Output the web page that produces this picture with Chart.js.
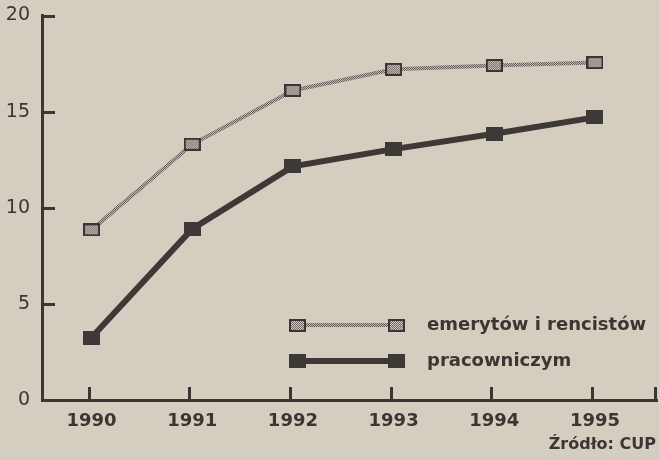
<!DOCTYPE html>
<html><head><meta charset="utf-8">
<script src="https://cdn.jsdelivr.net/npm/chart.js@4"></script>
<style>
html,body{margin:0;padding:0;background:#d5cec0;}
canvas{display:block;}
</style>
</head><body>
<canvas id="c" width="659" height="460"></canvas>
<script>
const years = [1990, 1991, 1992, 1993, 1994, 1995];
const emeryci = [8.85, 13.3, 16.1, 17.2, 17.4, 17.55];
const pracownicy = [3.25, 8.9, 12.15, 13.05, 13.85, 14.7];
const yTicks = [0, 5, 10, 15, 20];
const seriesNames = ['emerytów i rencistów', 'pracowniczym'];
const sourceText = 'Źródło: CUP';

const INK = '#3a3633';

function makeCanvas(w, h, fn) {
  const c = document.createElement('canvas');
  c.width = w; c.height = h;
  fn(c.getContext('2d'), w, h);
  return c;
}
const linePatCanvas = makeCanvas(2, 2, (g) => {
  g.fillStyle = '#c2bbb0'; g.fillRect(0, 0, 2, 2);
  g.fillStyle = '#625d59'; g.fillRect(0, 0, 1, 1); g.fillRect(1, 1, 1, 1);
});
const linePattern = document.createElement('canvas').getContext('2d').createPattern(linePatCanvas, 'repeat');

const markerGray = makeCanvas(17, 13, (g, w, h) => {
  g.fillStyle = '#cfc9bf'; g.fillRect(0, 0, w, h);
  g.fillStyle = '#6e6964';
  for (let yy = 0; yy < h; yy++) for (let xx = 0; xx < w; xx++) if ((xx + yy) % 2 === 0) g.fillRect(xx, yy, 1, 1);
  g.strokeStyle = '#3a3633'; g.lineWidth = 2; g.strokeRect(1, 1, w - 2, h - 2);
});
const markerDark = makeCanvas(17, 14, (g, w, h) => {
  g.fillStyle = '#3d3936'; g.fillRect(0, 0, w, h);
});

const toPts = (arr) => arr.map((v, i) => ({ x: years[i], y: v }));

const decor = {
  id: 'decor',
  afterDraw(chart) {
    const { ctx, chartArea: a, scales: { x, y } } = chart;
    ctx.save();
    ctx.strokeStyle = INK;
    ctx.lineWidth = 3;
    ctx.beginPath();
    yTicks.forEach(v => {
      if (v === 0) return;
      const py = Math.round(y.getPixelForValue(v)) + 0.5;
      ctx.moveTo(a.left, py); ctx.lineTo(a.left + 13, py);
    });
    years.forEach(v => {
      const px = Math.round(x.getPixelForValue(v)) - 2.5;
      ctx.moveTo(px, a.bottom); ctx.lineTo(px, a.bottom - 13);
    });
    ctx.moveTo(a.right - 1.5, a.bottom); ctx.lineTo(a.right - 1.5, a.bottom - 13);
    ctx.stroke();

    const rows = [325, 361];
    const x1 = 297.5, x2 = 396.5, tx = 427;
    chart.data.datasets.forEach((ds, i) => {
      const ry = rows[i];
      ctx.save();
      ctx.strokeStyle = ds.borderColor;
      ctx.lineWidth = ds.borderWidth;
      ctx.beginPath(); ctx.moveTo(x1, ry); ctx.lineTo(x2, ry); ctx.stroke();
      const img = ds.pointStyle;
      ctx.drawImage(img, Math.round(x1 - img.width / 2), Math.round(ry - img.height / 2));
      ctx.drawImage(img, Math.round(x2 - img.width / 2), Math.round(ry - img.height / 2));
      ctx.fillStyle = INK;
      ctx.font = 'bold 18px "DejaVu Sans"';
      ctx.textBaseline = 'middle';
      ctx.textAlign = 'left';
      ctx.fillText(ds.label, tx, ry);
      ctx.restore();
    });
    ctx.fillStyle = INK;
    ctx.font = 'bold 16px "DejaVu Sans"';
    ctx.textAlign = 'right';
    ctx.textBaseline = 'middle';
    ctx.fillText(sourceText, 656, 445);
    ctx.restore();
  }
};

new Chart(document.getElementById('c'), {
  type: 'line',
  data: {
    datasets: [
      {
        label: seriesNames[0],
        data: toPts(emeryci),
        borderColor: linePattern,
        borderWidth: 4,
        pointStyle: markerGray,
        tension: 0
      },
      {
        label: seriesNames[1],
        data: toPts(pracownicy),
        borderColor: '#3d3936',
        borderWidth: 6,
        pointStyle: markerDark,
        tension: 0
      }
    ]
  },
  options: {
    responsive: false,
    animation: false,
    events: [],
    layout: { autoPadding: false, padding: { top: 15.5, right: 2, left: 0, bottom: 0 } },
    plugins: { legend: { display: false }, tooltip: { enabled: false } },
    scales: {
      x: {
        type: 'linear',
        min: 1989.508,
        max: 1995.616,
        afterFit(s) { s.height = 60; s.paddingLeft = 0; s.paddingRight = 0; },
        afterBuildTicks(s) { s.ticks = years.map(v => ({ value: v })); },
        grid: { display: true, drawOnChartArea: false, drawTicks: false, color: 'rgba(0,0,0,0)' },
        border: { display: true, color: INK, width: 3 },
        ticks: {
          padding: 11,
          color: INK,
          font: { family: 'DejaVu Sans', size: 18, weight: 'bold' },
          callback: (v) => String(v),
          maxRotation: 0,
          autoSkip: false
        }
      },
      y: {
        min: 0,
        max: 20,
        afterFit(s) { s.width = 42; s.paddingTop = 0; s.paddingBottom = 0; },
        afterBuildTicks(s) { s.ticks = yTicks.map(v => ({ value: v })); },
        grid: { display: true, drawOnChartArea: false, drawTicks: false, color: 'rgba(0,0,0,0)' },
        border: { display: true, color: INK, width: 3 },
        ticks: {
          padding: 12,
          color: INK,
          font: { family: 'DejaVu Sans', size: 19 },
          callback: (v) => String(v)
        }
      }
    }
  },
  plugins: [decor]
});
</script>
</body></html>
